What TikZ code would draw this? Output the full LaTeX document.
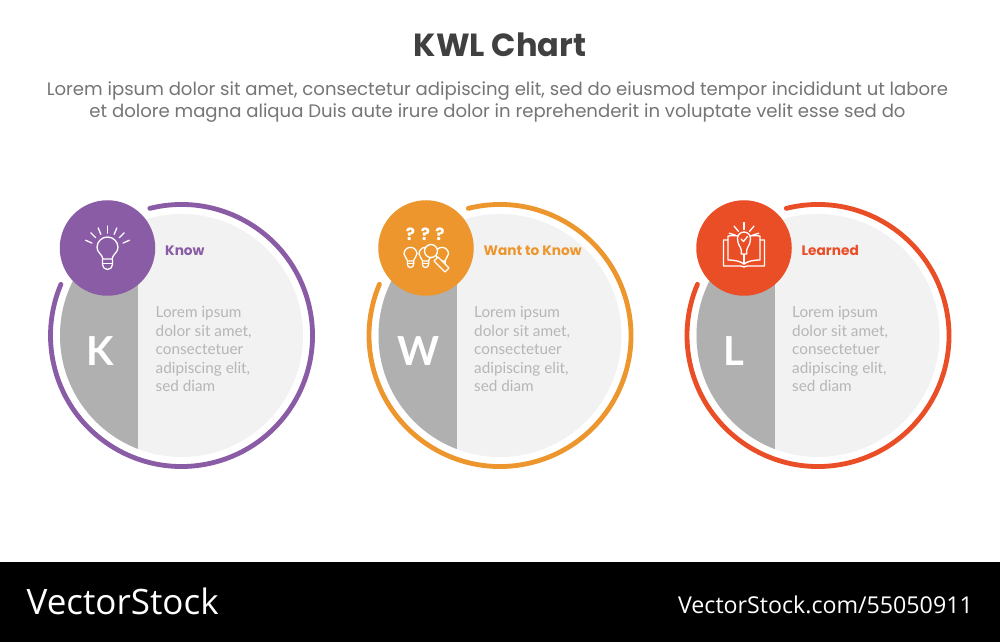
\documentclass[tikz,border=0pt]{standalone}
\usepackage{fontspec}
\setmainfont{Poppins}
\newfontfamily\lato{Lato}
\newfontfamily\foot{Open Sans}
\definecolor{kpurple}{HTML}{8A5CA6}
\definecolor{korange}{HTML}{EC962D}
\definecolor{kred}{HTML}{EA4E27}
\definecolor{kgray}{HTML}{B0B0B0}
\definecolor{klight}{HTML}{F2F2F2}
\definecolor{ktext}{HTML}{B6B6B6}
\definecolor{khead}{HTML}{757575}
\definecolor{ktitle}{HTML}{404040}
\tikzset{
  iconline/.style={draw=white,line width=1.3pt,line cap=round,line join=round},
  bodytext/.style={anchor=west,inner sep=0pt,text=ktext,font=\lato\fontsize{15.3}{18.5}\selectfont,align=left},
  itemtitle/.style={anchor=west,inner sep=0pt,font=\fontsize{13.7}{15}\selectfont\bfseries},
  bigletter/.style={inner sep=0pt,text=white,font=\lato\fontsize{40}{44}\selectfont\bfseries},
}
% #1 x centre, #2 colour, #3 letter, #4 title, #5 name, #6 icon code, #7 letter offset
\newcommand{\kwlcard}[7]{%
 \begin{scope}[shift={(#1,306.5)}]
  \fill[klight] (0,0) circle (121.5);
  \begin{scope}
   \clip (0,0) circle (121.5);
   \fill[kgray] (-125,-125) rectangle (-43.5,125);
  \end{scope}
  \draw[#2,line width=4.8pt,line cap=round] (104:131) arc[start angle=104,end angle=-203,radius=131];
  \node[bigletter] (#5letter) at (#7,-15.5) {#3};
  \node[bodytext] (#5body) at (-26,-13.5) {Lorem ipsum\\dolor sit amet,\\consectetuer\\adipiscing elit,\\sed diam};
  \node[itemtitle,text=#2] (#5title) at (-16.5,85) {#4};
  \node[circle,fill=#2,minimum size=95.5pt,inner sep=0pt] (#5icon) at (-74,87.5) {};
  \begin{scope}[shift={(-74,87.5)}]
   #6
  \end{scope}
 \end{scope}}
\newcommand{\kbulb}[3]{%
 \begin{scope}[shift={(#1,#2)},scale=#3]
  \draw[iconline] (-4.6,-10.5) .. controls (-5,-6) and (-10.5,-4) .. (-10.5,1)
     arc[start angle=180,end angle=0,radius=10.5]
     .. controls (10.5,-4) and (5,-6) .. (4.6,-10.5) -- cycle;
  \draw[iconline] (-5,-10.5) -- (-5,-16) arc[start angle=180,end angle=360,radius=5] -- (5,-10.5);
  \draw[iconline] (-5,-15) -- (5,-15);
 \end{scope}}
% #1,#2 centre, #3 inner radius, #4 ray length, #5 angles
\newcommand{\krays}[5]{%
 \begin{scope}[shift={(#1,#2)}]
  \foreach \a in {#5}{\draw[iconline] (\a:#3) -- (\a:#3+#4);}
 \end{scope}}
\begin{document}
\begin{tikzpicture}[x=1pt,y=1pt]
\useasboundingbox (0,0) rectangle (1000,642);
\fill[white] (0,0) rectangle (1000,642);
\fill[black] (0,0) rectangle (1000,80);
\node[inner sep=0pt,text=ktitle,font=\fontsize{32}{36}\selectfont\bfseries] (title) at (500,597) {KWL Chart};
\node[inner sep=0pt,text=khead,font=\fontsize{18.08}{22}\selectfont,align=center] (sub) at (497.5,540) {Lorem ipsum dolor sit amet, consectetur adipiscing elit, sed do eiusmod tempor incididunt ut labore\\et dolore magna aliqua Duis aute irure dolor in reprehenderit in voluptate velit esse sed do};
\kwlcard{181.5}{kpurple}{K}{Know}{k}{%
  \kbulb{0}{-0.5}{1}
  \krays{0}{-2}{17}{7}{24,46,67,90,113,134,156}}{-81.5}
\kwlcard{500}{korange}{W}{Want to Know}{w}{%
  \foreach \x in {-15.5,-0.5,14}{\node[inner sep=0pt,text=white,font=\fontsize{17}{17}\selectfont\bfseries] at (\x,14) {?};}
  \kbulb{-15.5}{-6.5}{0.62}
  \kbulb{-0.5}{-6.5}{0.62}
  \kbulb{16}{-6.5}{0.62}
  \draw[iconline,fill=korange] (8,-13) -- (19,-24) -- (23,-20) -- (12,-9) -- cycle;
  \draw[iconline,fill=korange] (5,-3) circle (6.5);}{-81}
\kwlcard{818}{kred}{L}{Learned}{l}{%
  \draw[iconline] (-16,8) -- (-20.5,8) -- (-20.5,-18) -- (-3,-18) .. controls (-2,-18) and (-1,-19) .. (0,-19) .. controls (1,-19) and (2,-18) .. (3,-18) -- (20.5,-18) -- (20.5,8) -- (16,8);
  \draw[iconline] (-6,12) .. controls (-10,12.5) and (-13,12.5) .. (-16,12) -- (-16,-12) .. controls (-10,-12) and (-4,-13) .. (0,-16) .. controls (4,-13) and (10,-12) .. (16,-12) -- (16,12) .. controls (13,12.5) and (10,12.5) .. (6,12);
  \draw[iconline] (0,-16) -- (0,-6);
  \draw[iconline,fill=kred] (-2.8,-6) -- (-2.8,-2) .. controls (-3,1) and (-6.5,3) .. (-6.5,9.5)
     arc[start angle=180,end angle=0,radius=6.5] .. controls (6.5,3) and (3,1) .. (2.8,-2) -- (2.8,-6) -- cycle;
  \draw[iconline] (-3,9) -- (-0.5,6.5) -- (3.5,11.5);
  \krays{0}{10}{8.5}{7}{18,50,90,130,162}}{-84}
\node[anchor=west,inner sep=0pt,text=white,font=\foot\fontsize{35}{40}\selectfont] (brand) at (26.5,41) {VectorStock};
\node[anchor=east,inner sep=0pt,text=white,font=\foot\fontsize{23.2}{26}\selectfont] (url) at (973,37) {VectorStock.com/55050911};
\end{tikzpicture}
\end{document}
